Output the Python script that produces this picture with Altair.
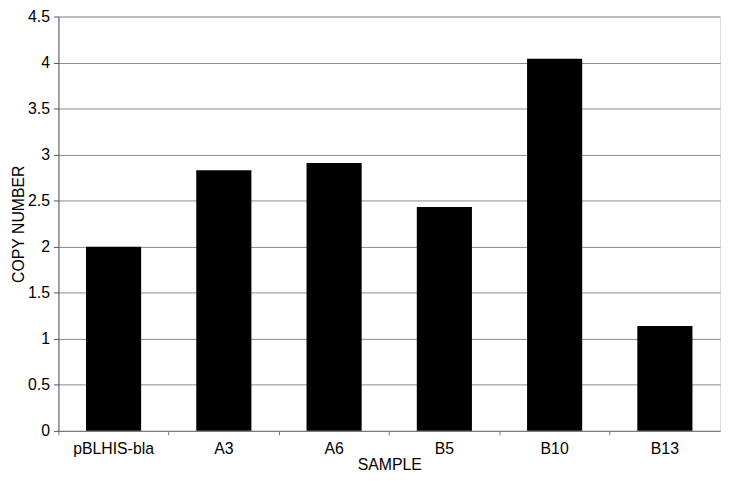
import altair as alt
import pandas as pd

samples = ["pBLHIS-bla", "A3", "A6", "B5", "B10", "B13"]
copy_number = [2.0, 2.83, 2.91, 2.43, 4.04, 1.14]
y_ticks = [0, 0.5, 1, 1.5, 2, 2.5, 3, 3.5, 4, 4.5]

df = pd.DataFrame({"sample": samples, "copy": copy_number})

FONT = "Liberation Sans"

x_scale = alt.Scale(domain=samples, paddingInner=0.5, paddingOuter=0.25)
x_scale_ticks = alt.Scale(domain=samples, paddingInner=0, paddingOuter=0)
y_scale = alt.Scale(domain=[0, 4.5], nice=False)

y_axis = alt.Axis(title="COPY NUMBER", values=y_ticks, format="~g", grid=True,
                  gridColor="#8a8a8a", gridWidth=1, tickColor="#555",
                  tickSize=5, domainColor="#555", labelFont=FONT,
                  labelFontSize=16, labelColor="black", labelPadding=4,
                  titleFont=FONT, titleFontSize=16, titleFontWeight="normal",
                  titleColor="black", titlePadding=1)

ticks_layer = alt.Chart(df).mark_bar(opacity=0).encode(
    x=alt.X("sample:N", scale=x_scale_ticks, sort=samples,
            axis=alt.Axis(title=None, labels=False, ticks=True, bandPosition=0,
                          orient="bottom", tickSize=4, tickColor="#777",
                          domain=True, domainColor="#777", grid=False)),
    y=alt.Y("copy:Q", scale=y_scale, axis=y_axis),
)

bars = alt.Chart(df).mark_bar(color="black").encode(
    x=alt.X("sample:N", scale=x_scale, sort=samples,
            axis=alt.Axis(title="SAMPLE", labelAngle=0, ticks=False, domain=False,
                          orient="bottom",
                          labelFont=FONT, labelFontSize=16, labelColor="black",
                          titleFont=FONT, titleFontSize=16, titleFontWeight="normal",
                          titleColor="black", labelPadding=10, titlePadding=0)),
    y=alt.Y("copy:Q", scale=y_scale, axis=y_axis),
)

chart = alt.layer(ticks_layer, bars).resolve_scale(x="independent").resolve_axis(
    x="independent"
).properties(
    width=669, height=419,
    autosize=alt.AutoSizeParams(type="none"),
    padding={"left": 51, "top": 6, "right": 2, "bottom": 40},
).configure_view(stroke="#333", strokeWidth=1).configure(background="white")

chart.save("out.html", embed_options={"renderer": "svg", "actions": False})
